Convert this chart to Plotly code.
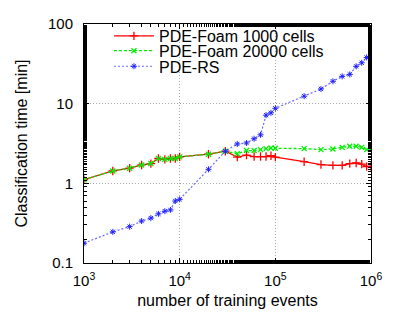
import plotly.graph_objects as go

events = [1000, 2000, 3000, 4000, 5000, 6000, 7000, 8000, 9000, 10000,
          20000, 30000, 40000, 50000, 60000, 70000, 80000, 90000, 100000,
          200000, 300000, 400000, 500000, 600000, 700000, 800000, 900000, 1000000]

foam_1000 = [1.11, 1.43, 1.55, 1.70, 1.77, 2.05, 2.00, 2.05, 2.05, 2.15,
             2.32, 2.53, 2.13, 2.26, 2.17, 2.17, 2.17, 2.22, 2.13,
             1.87, 1.72, 1.68, 1.68, 1.77, 1.80, 1.74, 1.62, 1.63]

foam_20000 = [1.11, 1.43, 1.55, 1.70, 1.77, 2.05, 2.00, 2.05, 2.05, 2.15,
              2.32, 2.53, 2.35, 2.58, 2.58, 2.65, 2.73, 2.78, 2.75,
              2.73, 2.65, 2.70, 2.83, 2.92, 2.92, 2.83, 2.65, 2.73]

pde_rs = [0.177, 0.246, 0.286, 0.336, 0.366, 0.414, 0.447, 0.464, 0.60, 0.63,
          1.50, 2.53, 3.12, 3.21, 3.63, 4.06, 7.17, 7.67, 8.75,
          12.4, 15.3, 19.1, 22.0, 23.3, 29.4, 32.6, 38.0, 40.3]

x_tickvals = [1e3, 1e4, 1e5, 1e6]
x_ticktext = ["10<sup>3</sup>", "10<sup>4</sup>", "10<sup>5</sup>", "10<sup>6</sup>"]
y_tickvals = [0.1, 1, 10, 100]
y_ticktext = ["0.1", "1", "10", "100"]

font = "Liberation Sans, Arial, sans-serif"

fig = go.Figure()
fig.add_trace(go.Scatter(
    x=events, y=foam_1000, name="PDE-Foam 1000 cells", mode="lines+markers",
    legend="legend",
    line=dict(color="#ff0000", width=1.3),
    marker=dict(symbol="cross-thin", size=6, color="#ff0000",
                line=dict(color="#ff0000", width=1.3))))
fig.add_trace(go.Scatter(
    x=events, y=foam_20000, name="PDE-Foam 20000 cells", mode="lines+markers",
    legend="legend2",
    line=dict(color="#00ee00", width=1.3, dash="3px,2px"),
    marker=dict(symbol="x-thin", size=5, color="#00ee00",
                line=dict(color="#00ee00", width=1.3))))
fig.add_trace(go.Scatter(
    x=events, y=pde_rs, name="PDE-RS", mode="lines+markers",
    legend="legend3",
    line=dict(color="#6a6aff", width=1.2, dash="2px,2px"),
    marker=dict(symbol="asterisk", size=5, color="#2020ff",
                line=dict(color="#2020ff", width=1))))

axis_common = dict(
    type="log", showline=True, linecolor="black", linewidth=1, mirror="allticks",
    ticks="inside", ticklen=5, tickcolor="black", automargin=False,
    showgrid=True, gridcolor="#a8a8a8", griddash="1px,2px", gridwidth=1,
    zeroline=False, tickfont=dict(family=font, size=15, color="black"),
    minor=dict(ticks="inside", ticklen=3, tickcolor="black", showgrid=False),
)

fig.update_xaxes(**axis_common, range=[3, 6], tickvals=x_tickvals, ticktext=x_ticktext,
                 ticklabelstandoff=4,
                 title=dict(text="number of training events", font=dict(family=font, size=16, color="black"),
                            standoff=6))
fig.update_yaxes(**axis_common, range=[-1, 2], tickvals=y_tickvals, ticktext=y_ticktext,
                 ticklabelstandoff=7,
                 title=dict(text="Classification time [min]", font=dict(family=font, size=16, color="black"),
                            standoff=16))

leg_common = dict(x=0.087, xanchor="left", yanchor="middle", bgcolor="rgba(0,0,0,0)",
                  font=dict(family=font, size=16, color="black"), itemwidth=40)

# page body has an 8px default margin, so the figure is shrunk by 8px and margins reduced
fig.update_layout(
    width=391, height=305,
    margin=dict(l=76, r=28, t=11, b=50),
    paper_bgcolor="white", plot_bgcolor="white",
    showlegend=True,
    legend=dict(**leg_common, y=0.9500),
    legend2=dict(**leg_common, y=0.888),
    legend3=dict(**leg_common, y=0.8227),
    font=dict(family=font, color="black"),
)

fig.write_html("out.html")
